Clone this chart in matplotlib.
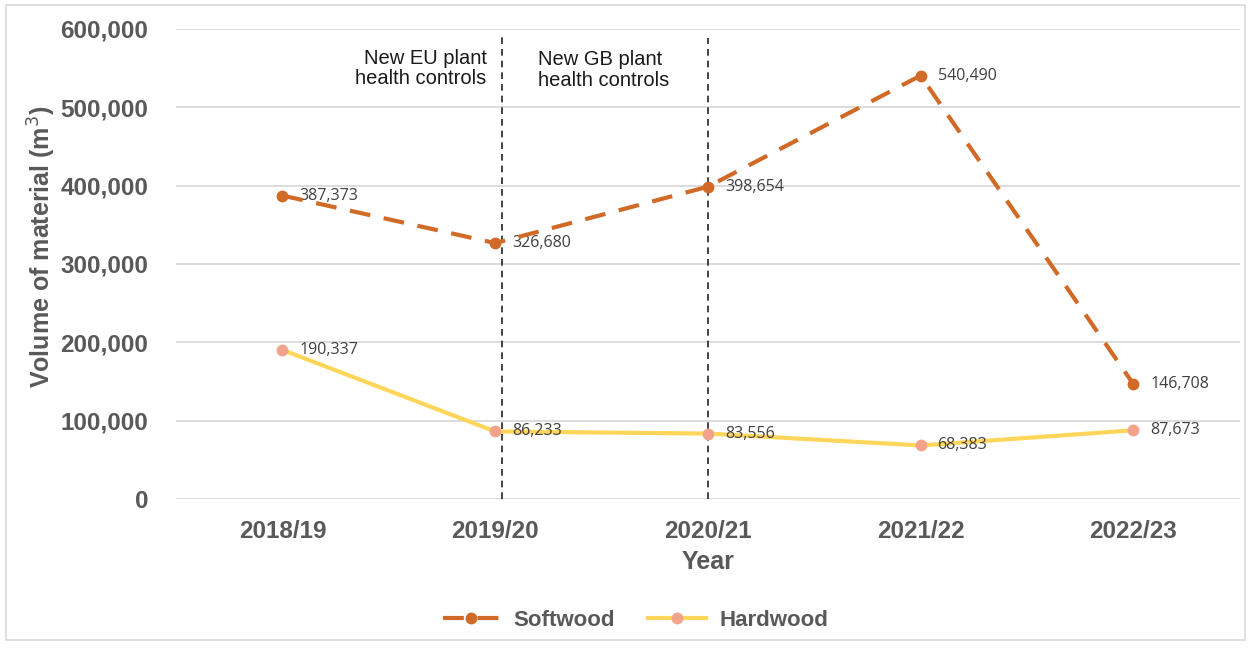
import matplotlib
matplotlib.use("Agg")
import matplotlib.pyplot as plt
from matplotlib.patches import Rectangle

years = ["2018/19", "2019/20", "2020/21", "2021/22", "2022/23"]
softwood = [387373, 326680, 398654, 540490, 146708]
hardwood = [190337, 86233, 83556, 68383, 87673]
yticks = [0, 100000, 200000, 300000, 400000, 500000, 600000]

grey = "#595959"
soft_c = "#D06A26"
hard_c = "#FFD659"
hard_m = "#F2A48A"

plt.rcParams["font.family"] = ["Liberation Sans", "DejaVu Sans"]

fig = plt.figure(figsize=(12.51, 6.5), dpi=100)
ax = fig.add_axes([0.1407, 0.2323, 0.8503, 0.7231])

x = list(range(len(years)))
ax.plot(x, softwood, color=soft_c, lw=3, ls=(0, (5, 3.3)), marker="o", ms=7.5,
        label="Softwood", zorder=4)
ax.plot(x, hardwood, color=hard_c, lw=3, marker="o", ms=7.5, mfc=hard_m, mec=hard_m,
        label="Hardwood", zorder=3)

# value labels beside each point
lab_font = ["Open Sans", "DejaVu Sans"]
for xi, v in zip(x, softwood):
    ax.annotate(f"{v:,}", (xi, v), xytext=(17, 0), textcoords="offset pixels",
                ha="left", va="center", fontsize=11.5, color="#404040", family=lab_font)
for xi, v in zip(x, hardwood):
    ax.annotate(f"{v:,}", (xi, v), xytext=(17, 0), textcoords="offset pixels",
                ha="left", va="center", fontsize=11.5, color="#404040", family=lab_font)

# policy change markers
ax.axvline(1.03, ymin=0, ymax=0.99, color="#222222", lw=1.2, ls=(0, (4, 3)), zorder=2)
ax.axvline(2.0, ymin=0, ymax=0.98, color="#222222", lw=1.2, ls=(0, (4, 3)), zorder=2)
ax.text(0.96, 575000, "New EU plant\nhealth controls", ha="right", va="top",
        fontsize=14.5, color="#1a1a1a", linespacing=1.1)
ax.text(1.2, 573000, "New GB plant\nhealth controls", ha="left", va="top",
        fontsize=14.5, color="#1a1a1a", linespacing=1.1)

ax.set_xlim(-0.5, 4.5)
ax.set_ylim(0, 600000)
ax.set_yticks(yticks)
ax.set_yticklabels([f"{t:,}" for t in yticks])
ax.set_xticks(x)
ax.set_xticklabels(years)
ax.tick_params(axis="both", length=0, labelsize=17.5, labelcolor=grey)
ax.tick_params(axis="y", pad=20)
ax.tick_params(axis="x", pad=15)
for lbl in ax.get_xticklabels() + ax.get_yticklabels():
    lbl.set_fontweight("bold")
ax.grid(axis="y", color="#D9D9D9", lw=1.3)
ax.set_axisbelow(True)
for s in ax.spines.values():
    s.set_visible(False)

ax.set_ylabel("Volume of material (m$^3$)", fontsize=18, fontweight="bold", color=grey)
ax.yaxis.set_label_coords(-0.111, 0.536)
ax.set_xlabel("Year", fontsize=18, fontweight="bold", color=grey)
ax.xaxis.set_label_coords(0.5, -0.108)

fig.legend(loc="center", bbox_to_anchor=(0.508, 0.045), ncol=2, frameon=False,
           prop={"size": 16, "weight": "bold"}, labelcolor=grey, handlelength=2.6,
           columnspacing=1.5, handletextpad=0.6)

fig.patches.append(Rectangle((0.005, 0.015), 0.99, 0.977, transform=fig.transFigure,
                             fill=False, edgecolor="#D9D9D9", lw=1.2))

fig.savefig("out.png", dpi=100)
